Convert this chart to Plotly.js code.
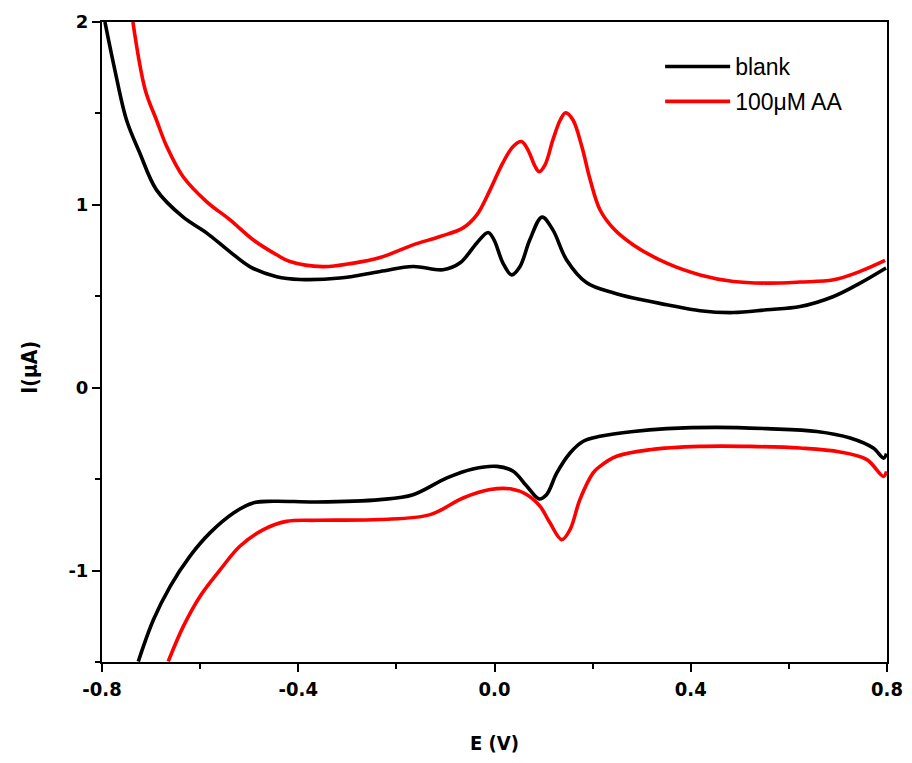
<!DOCTYPE html>
<html><head><meta charset="utf-8">
<script src="https://cdn.plot.ly/plotly-3.0.1.min.js"></script>
<style>body{margin:0;background:#fff}#chart{width:912px;height:763px}</style>
</head><body><div id="chart"></div>
<script>
// blank - anodic (forward) branch
const blankFwdE = [-0.794,-0.774,-0.750,-0.723,-0.689,-0.635,-0.587,-0.539,-0.498,-0.444,-0.396,-0.315,-0.233,-0.166,-0.105,-0.070,-0.036,-0.013,-0.001,0.017,0.035,0.052,0.072,0.097,0.119,0.147,0.188,0.242,0.283,0.351,0.419,0.487,0.555,0.623,0.691,0.745,0.798];
const blankFwdI = [2.0,1.74,1.464,1.284,1.082,0.934,0.847,0.743,0.661,0.607,0.592,0.600,0.636,0.663,0.645,0.683,0.792,0.849,0.809,0.683,0.617,0.663,0.809,0.933,0.863,0.699,0.574,0.519,0.490,0.454,0.421,0.411,0.426,0.444,0.499,0.572,0.655];
// blank - cathodic (reverse) branch
const blankRevE = [0.799,0.793,0.772,0.725,0.657,0.555,0.453,0.351,0.283,0.215,0.181,0.154,0.127,0.106,0.091,0.066,0.038,0.005,-0.044,-0.097,-0.166,-0.233,-0.362,-0.451,-0.492,-0.532,-0.580,-0.621,-0.661,-0.695,-0.726];
const blankRevI = [-0.36,-0.385,-0.330,-0.275,-0.239,-0.224,-0.217,-0.224,-0.239,-0.266,-0.293,-0.357,-0.466,-0.585,-0.608,-0.539,-0.457,-0.430,-0.444,-0.493,-0.585,-0.612,-0.625,-0.621,-0.630,-0.685,-0.794,-0.922,-1.086,-1.268,-1.497];
// 100 uM AA - anodic branch
const aaFwdE = [-0.737,-0.712,-0.689,-0.668,-0.635,-0.587,-0.539,-0.492,-0.444,-0.417,-0.350,-0.290,-0.233,-0.166,-0.111,-0.064,-0.036,-0.009,0.017,0.038,0.055,0.068,0.083,0.091,0.103,0.119,0.134,0.145,0.160,0.178,0.195,0.215,0.242,0.283,0.351,0.419,0.487,0.555,0.623,0.691,0.745,0.796];
const aaFwdI = [2.0,1.63,1.464,1.319,1.155,1.018,0.918,0.809,0.727,0.690,0.662,0.680,0.712,0.781,0.827,0.874,0.945,1.082,1.230,1.319,1.346,1.301,1.209,1.182,1.219,1.355,1.464,1.504,1.464,1.319,1.137,0.973,0.872,0.781,0.681,0.617,0.581,0.572,0.578,0.590,0.636,0.696];
// 100 uM AA - cathodic branch
const aaRevE = [0.799,0.793,0.759,0.704,0.623,0.521,0.419,0.317,0.249,0.215,0.201,0.174,0.154,0.137,0.113,0.093,0.066,0.032,-0.009,-0.064,-0.131,-0.233,-0.362,-0.424,-0.471,-0.519,-0.559,-0.600,-0.634,-0.665];
const aaRevI = [-0.458,-0.485,-0.393,-0.351,-0.330,-0.321,-0.321,-0.339,-0.375,-0.430,-0.466,-0.612,-0.776,-0.831,-0.739,-0.649,-0.585,-0.553,-0.557,-0.603,-0.694,-0.721,-0.725,-0.731,-0.776,-0.867,-0.995,-1.140,-1.304,-1.497];

const xTicks = [-0.8,-0.4,0.0,0.4,0.8];
const xTickText = ['-0.8','-0.4','0.0','0.4','0.8'];
const xMinor = [-0.6,-0.2,0.2,0.6];
const yTicks = [-1,0,1,2];
const yTickText = ['-1','0','1','2'];
const yMinor = [-1.5,-0.5,0.5,1.5];
const seriesNames = ['blank','100\u03bcM AA'];
const yTitle = 'I(\u03bcA)';
const xTitle = 'E (V)';

const bold = a => a.map(t => '<b>' + t + '</b>');
const lw = 3.6;
const ln = c => ({color: c, width: lw, shape: 'spline', smoothing: 1.0});
const traces = [
  {x: blankFwdE, y: blankFwdI, name: seriesNames[0], mode: 'lines', line: ln('#000000'), legendgroup: 'b'},
  {x: blankRevE, y: blankRevI, name: seriesNames[0], mode: 'lines', line: ln('#000000'), legendgroup: 'b', showlegend: false},
  {x: aaFwdE, y: aaFwdI, name: seriesNames[1], mode: 'lines', line: ln('#ff0000'), legendgroup: 'a'},
  {x: aaRevE, y: aaRevI, name: seriesNames[1], mode: 'lines', line: ln('#ff0000'), legendgroup: 'a', showlegend: false}
];

const layout = {
  width: 912, height: 763,
  margin: {l: 102, r: 25, t: 22, b: 101},
  paper_bgcolor: '#fff', plot_bgcolor: '#fff',
  showlegend: true,
  legend: {x: 0.711, y: 0.964, xanchor: 'left', yanchor: 'top', bgcolor: 'rgba(0,0,0,0)',
    font: {family: 'Liberation Sans, Arial', size: 23, color: '#000'}, tracegroupgap: 2, itemwidth: 65},
  xaxis: {
    range: [-0.8, 0.8], tickmode: 'array', tickvals: xTicks, ticktext: bold(xTickText),
    ticks: 'outside', ticklen: 8, tickwidth: 2, tickcolor: '#000',
    minor: {tickmode: 'array', tickvals: xMinor, ticks: 'outside', ticklen: 5, tickwidth: 2, tickcolor: '#000'},
    showline: true, linecolor: '#000', linewidth: 2, mirror: true, showgrid: false, zeroline: false,
    tickfont: {family: 'DejaVu Sans Condensed, DejaVu Sans', size: 20, color: '#000', weight: 700},
    title: {text: '<b>' + xTitle + '</b>', standoff: 36, font: {family: 'DejaVu Sans Condensed, DejaVu Sans', size: 20, color: '#000', weight: 700}}
  },
  yaxis: {
    range: [-1.5, 2], tickmode: 'array', tickvals: yTicks, ticktext: bold(yTickText),
    ticks: 'outside', ticklen: 8, tickwidth: 2, tickcolor: '#000',
    minor: {tickmode: 'array', tickvals: yMinor, ticks: 'outside', ticklen: 5, tickwidth: 2, tickcolor: '#000'},
    showline: true, linecolor: '#000', linewidth: 2, mirror: true, showgrid: false, zeroline: false,
    tickfont: {family: 'DejaVu Sans, Verdana', size: 18, color: '#000', weight: 700}
  },
  annotations: [{
    text: '<b>' + yTitle + '</b>', xref: 'paper', yref: 'paper', x: -0.092, y: 0.461,
    xanchor: 'center', yanchor: 'middle', textangle: -90, showarrow: false,
    font: {family: 'DejaVu Sans Condensed, DejaVu Sans', size: 21, color: '#000', weight: 700}
  }]
};
Plotly.newPlot('chart', traces, layout, {displayModeBar: false, staticPlot: true});
</script></body></html>
